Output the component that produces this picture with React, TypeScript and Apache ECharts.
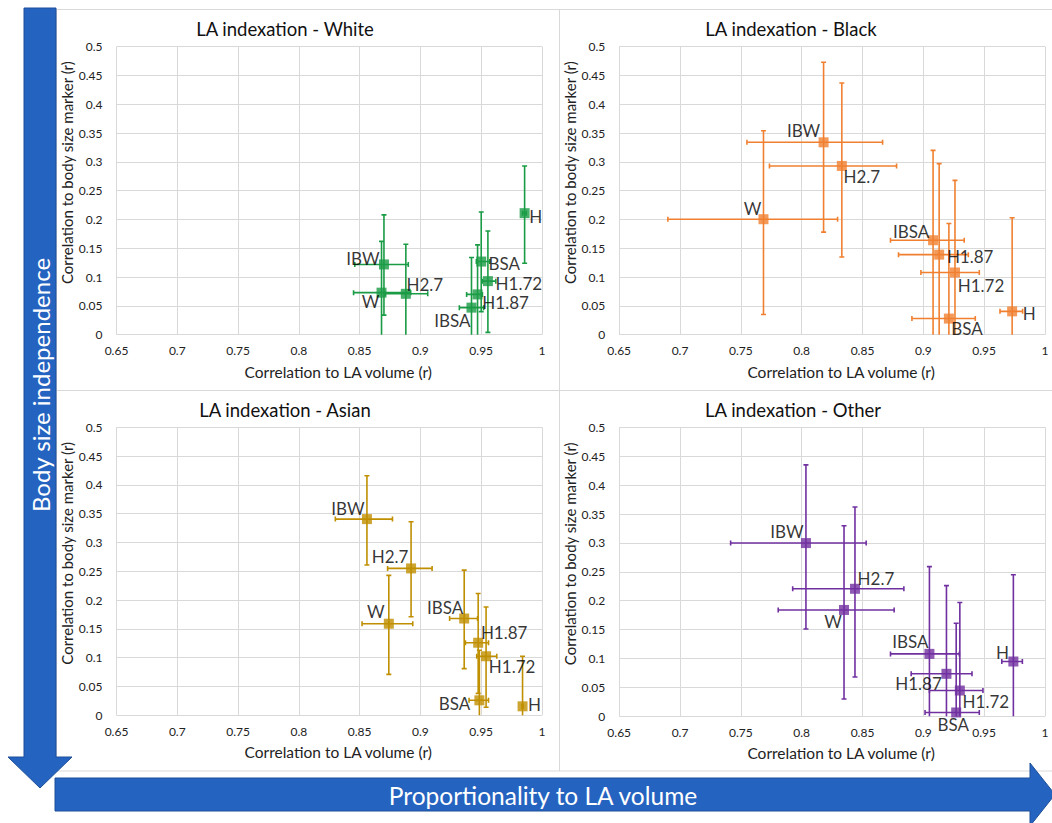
import React, { useEffect, useRef } from 'react';
import * as echarts from 'echarts';

// ---------- data ----------
const pointLabels = ['IBW', 'H2.7', 'W', 'IBSA', 'H1.87', 'H1.72', 'BSA', 'H'];

const whiteX = [0.870, 0.888, 0.868, 0.942, 0.947, 0.9555, 0.950, 0.9857];
const whiteY = [0.122, 0.071, 0.073, 0.047, 0.070, 0.093, 0.127, 0.211];
const whiteXLo = [0.846, 0.871, 0.845, 0.932, 0.938, 0.951, 0.946, 0.984];
const whiteXHi = [0.890, 0.906, 0.892, 0.952, 0.951, 0.962, 0.957, 0.987];
const whiteYLo = [0.034, -0.02, -0.02, -0.02, -0.02, 0.004, 0.040, 0.124];
const whiteYHi = [0.208, 0.157, 0.162, 0.134, 0.156, 0.180, 0.213, 0.293];

const blackX = [0.818, 0.833, 0.7686, 0.908, 0.913, 0.926, 0.921, 0.973];
const blackY = [0.334, 0.293, 0.2005, 0.164, 0.139, 0.108, 0.028, 0.0405];
const blackXLo = [0.755, 0.7735, 0.690, 0.873, 0.8796, 0.898, 0.8906, 0.963];
const blackXHi = [0.8665, 0.878, 0.8295, 0.9336, 0.937, 0.946, 0.9427, 0.9816];
const blackYLo = [0.178, 0.135, 0.035, -0.02, -0.02, -0.02, -0.02, -0.02];
const blackYHi = [0.473, 0.437, 0.354, 0.320, 0.297, 0.268, 0.193, 0.203];

const asianX = [0.856, 0.8923, 0.874, 0.936, 0.9475, 0.954, 0.9485, 0.984];
const asianY = [0.3406, 0.255, 0.159, 0.168, 0.126, 0.1025, 0.026, 0.0156];
const asianXLo = [0.830, 0.873, 0.852, 0.924, 0.937, 0.9463, 0.940, 0.9835];
const asianXHi = [0.877, 0.9096, 0.8937, 0.947, 0.956, 0.9628, 0.956, 0.9845];
const asianYLo = [0.261, 0.171, 0.071, 0.081, 0.038, 0.014, -0.02, -0.02];
const asianYHi = [0.416, 0.336, 0.243, 0.252, 0.2115, 0.188, 0.113, 0.1025];

const otherX = [0.8035, 0.8438, 0.8348, 0.905, 0.919, 0.930, 0.927, 0.974];
const otherY = [0.2997, 0.2206, 0.184, 0.108, 0.0735, 0.0446, 0.0066, 0.0948];
const otherXLo = [0.7416, 0.7926, 0.7807, 0.873, 0.890, 0.905, 0.9014, 0.9645];
const otherXHi = [0.853, 0.884, 0.876, 0.9296, 0.940, 0.949, 0.946, 0.9814];
const otherYLo = [0.151, 0.068, 0.030, -0.02, -0.02, -0.02, -0.02, -0.02];
const otherYHi = [0.435, 0.362, 0.3296, 0.259, 0.226, 0.197, 0.161, 0.245];

const panelTitles = ['LA indexation - White', 'LA indexation - Black', 'LA indexation - Asian', 'LA indexation - Other'];
const xAxisName = 'Correlation to LA volume (r)';
const yAxisName = 'Correlation to body size marker (r)';
const xMin = 0.65, xMax = 1, xStep = 0.05;
const yMin = 0, yMax = 0.5, yStep = 0.05;
const verticalArrowText = 'Body size independence';
const horizontalArrowText = 'Proportionality to LA volume';

// ---------- layout / style ----------
const FONT = 'Lato, "Open Sans", sans-serif';
const panelColors = ['#1a9b45', '#f08030', '#bf8f00', '#7030a0'];
const grids = [
  { left: 116.5, top: 46.7, width: 425.5, height: 288 },
  { left: 619.2, top: 46.7, width: 425.8, height: 288 },
  { left: 116.5, top: 427.3, width: 425.5, height: 288 },
  { left: 619.2, top: 427.3, width: 425.8, height: 289 },
];
const titlePos = [[285, 29], [791, 29], [285, 410], [793, 410]];
// label offsets (px) relative to marker centre, order follows pointLabels
const labelOffsets = [
  [[-21, -6], [19, -9], [-11, 9], [-19, 13], [28, 8], [31, 2], [23, 2], [11, 3]],
  [[-20, -12], [20, 11], [-11, -11], [-22, -9], [31, 2], [26, 13], [18, 10], [17, 2]],
  [[-19, -11], [-21, -12], [-13, -12], [-19, -11], [26, -10], [26, 10], [-25, 3], [12, -2]],
  [[-19, -12], [21, -10], [-11, 12], [-19, -12], [-28, 10], [26, 11], [-3, 12], [-11, -9]],
];

const panels = [
  [whiteX, whiteY, whiteXLo, whiteXHi, whiteYLo, whiteYHi],
  [blackX, blackY, blackXLo, blackXHi, blackYLo, blackYHi],
  [asianX, asianY, asianXLo, asianXHi, asianYLo, asianYHi],
  [otherX, otherY, otherXLo, otherXHi, otherYLo, otherYHi],
];

const fmt = (v: number) => String(+v.toFixed(2));

function makeErrRender(color: string) {
  return (params: any, api: any) => {
    const x = api.value(0), y = api.value(1);
    const pL = api.coord([api.value(2), y]);
    const pR = api.coord([api.value(3), y]);
    const pB = api.coord([x, api.value(4)]);
    const pT = api.coord([x, api.value(5)]);
    const cap = 2.5;
    const style = { stroke: color, lineWidth: 1.6 };
    const ln = (x1: number, y1: number, x2: number, y2: number) => ({
      type: 'line', shape: { x1, y1, x2, y2 }, style,
    });
    return {
      type: 'group',
      children: [
        ln(pL[0], pL[1], pR[0], pR[1]),
        ln(pL[0], pL[1] - cap, pL[0], pL[1] + cap),
        ln(pR[0], pR[1] - cap, pR[0], pR[1] + cap),
        ln(pB[0], pB[1], pT[0], pT[1]),
        ln(pB[0] - cap, pB[1], pB[0] + cap, pB[1]),
        ln(pT[0] - cap, pT[1], pT[0] + cap, pT[1]),
      ],
    };
  };
}

export default function App() {
  const ref = useRef<HTMLDivElement>(null);
  useEffect(() => {
    if (!ref.current) return;
    const chart = echarts.init(ref.current, null, { renderer: 'svg' });

    const xAxes = grids.map((_, i) => ({
      type: 'value', gridIndex: i, min: xMin, max: xMax, interval: xStep,
      name: xAxisName, nameLocation: 'middle', nameGap: 29,
      nameTextStyle: { fontSize: 15.5, color: '#222', fontFamily: FONT, padding: [0, 0, 0, 18] },
      axisLine: { show: false }, axisTick: { show: false },
      axisLabel: { fontSize: 12, color: '#222', fontFamily: FONT, margin: 10, formatter: fmt },
      splitLine: { show: true, lineStyle: { color: '#d9d9d9', width: 1 } },
    }));
    const yAxes = grids.map((_, i) => ({
      type: 'value', gridIndex: i, min: yMin, max: yMax, interval: yStep,
      name: yAxisName, nameLocation: 'middle', nameGap: 39,
      nameTextStyle: { fontSize: 15, color: '#222', fontFamily: FONT, padding: [0, 0, 0, 36] },
      axisLine: { show: false }, axisTick: { show: false },
      axisLabel: { fontSize: 12, color: '#222', fontFamily: FONT, margin: 14, formatter: fmt },
      splitLine: { show: true, lineStyle: { color: '#d9d9d9', width: 1 } },
    }));

    const series: any[] = [];
    panels.forEach((p, i) => {
      const [xs, ys, xl, xh, yl, yh] = p;
      series.push({
        type: 'custom', xAxisIndex: i, yAxisIndex: i, clip: true, z: 2,
        renderItem: makeErrRender(panelColors[i]),
        encode: { x: 0, y: 1 },
        data: xs.map((x, k) => [x, ys[k], xl[k], xh[k], yl[k], yh[k]]),
      });
      series.push({
        type: 'scatter', xAxisIndex: i, yAxisIndex: i, z: 3,
        symbol: 'rect', symbolSize: 10,
        itemStyle: { color: panelColors[i] },
        label: {
          show: true, position: 'inside', fontSize: 17, color: '#000', fontFamily: FONT,
          textBorderWidth: 0,
          formatter: (d: any) => pointLabels[d.dataIndex],
        },
        data: xs.map((x, k) => ({
          value: [x, ys[k]],
          label: { offset: labelOffsets[i][k] },
        })),
      });
    });

    const graphics: any[] = [
      { type: 'rect', shape: { x: 56.5, y: 9.5, width: 1000, height: 761.5 }, style: { fill: 'none', stroke: '#d9d9d9', lineWidth: 1 }, z: 0 },
      { type: 'line', shape: { x1: 559.5, y1: 9.5, x2: 559.5, y2: 771 }, style: { stroke: '#d9d9d9', lineWidth: 1 }, z: 0 },
      { type: 'line', shape: { x1: 56.5, y1: 390.5, x2: 1052, y2: 390.5 }, style: { stroke: '#d9d9d9', lineWidth: 1 }, z: 0 },
      ...panelTitles.map((t, i) => ({
        type: 'text', x: titlePos[i][0], y: titlePos[i][1], z: 5,
        style: { text: t, fontSize: 18.5, fill: '#111', fontFamily: FONT, align: 'center', verticalAlign: 'middle' },
      })),
      {
        type: 'polygon', z: 10,
        shape: { points: [[24, 8], [56, 8], [56, 757], [72, 757], [40, 788], [8, 757], [24, 757]] },
        style: { fill: '#2563c0', stroke: '#1d4f99', lineWidth: 1 },
      },
      {
        type: 'polygon', z: 10,
        shape: { points: [[55, 778], [1030, 778], [1030, 763], [1055, 794.5], [1030, 826], [1030, 811], [55, 811]] },
        style: { fill: '#2563c0', stroke: '#1d4f99', lineWidth: 1 },
      },
      {
        type: 'text', x: 40, y: 385, rotation: Math.PI / 2, z: 11,
        style: { text: verticalArrowText, fontSize: 24, fill: '#fff', fontFamily: FONT, align: 'center', verticalAlign: 'middle' },
      },
      {
        type: 'text', x: 543, y: 795, z: 11,
        style: { text: horizontalArrowText, fontSize: 24.5, fill: '#fff', fontFamily: FONT, align: 'center', verticalAlign: 'middle' },
      },
    ];

    chart.setOption({
      animation: false,
      backgroundColor: '#fff',
      grid: grids.map(g => ({ ...g, containLabel: false })),
      xAxis: xAxes,
      yAxis: yAxes,
      series,
      graphic: graphics,
    });
    return () => chart.dispose();
  }, []);
  return <div ref={ref} style={{ position: 'fixed', left: 0, top: 0, width: 1052, height: 823 }} />;
}
